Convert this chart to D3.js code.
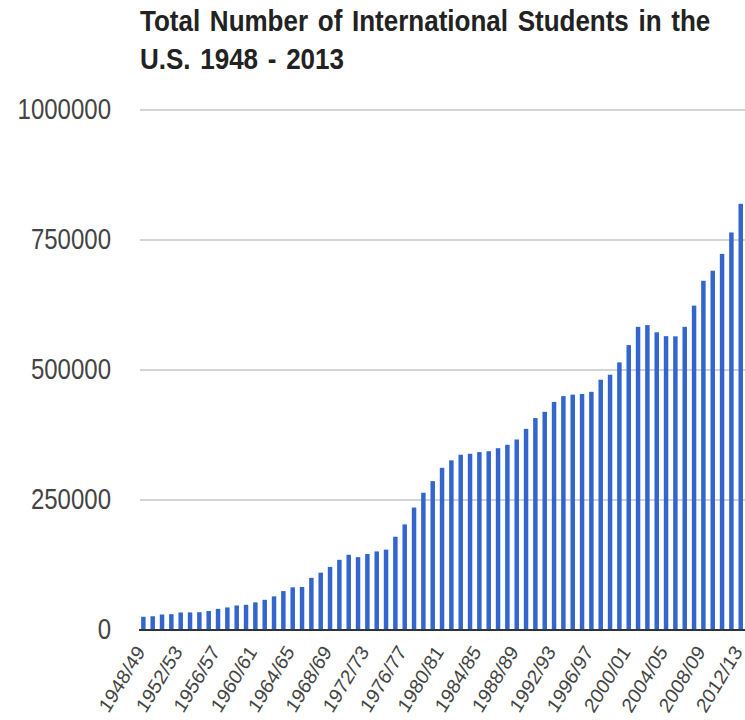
<!DOCTYPE html>
<html>
<head>
<meta charset="utf-8">
<script src="https://cdn.jsdelivr.net/npm/d3@7"></script>
<style>
  html, body { margin: 0; padding: 0; background: #fff; }
  svg { display: block; }
  text { font-family: "Liberation Sans", Arial, sans-serif; }
</style>
</head>
<body>
<svg id="chart" width="745" height="720"></svg>
<script>
const titleLines = ["Total Number of International Students in the", "U.S. 1948 - 2013"];

const categories = [
  "1948/49","1949/50","1950/51","1951/52","1952/53","1953/54","1954/55","1955/56",
  "1956/57","1957/58","1958/59","1959/60","1960/61","1961/62","1962/63","1963/64",
  "1964/65","1965/66","1966/67","1967/68","1968/69","1969/70","1970/71","1971/72",
  "1972/73","1973/74","1974/75","1975/76","1976/77","1977/78","1978/79","1979/80",
  "1980/81","1981/82","1982/83","1983/84","1984/85","1985/86","1986/87","1987/88",
  "1988/89","1989/90","1990/91","1991/92","1992/93","1993/94","1994/95","1995/96",
  "1996/97","1997/98","1998/99","1999/00","2000/01","2001/02","2002/03","2003/04",
  "2004/05","2005/06","2006/07","2007/08","2008/09","2009/10","2010/11","2011/12",
  "2012/13"
];

const students = [
  25464, 26433, 29813, 30462, 33675, 33833, 34232, 36494,
  40666, 43391, 47245, 48486, 53107, 58086, 64705, 74814,
  82045, 82709, 100262, 110315, 121362, 134959, 144708, 140126,
  146097, 151066, 154580, 179344, 203068, 235509, 263938, 286343,
  311882, 326299, 336985, 338894, 342113, 343777, 349609, 356187,
  366354, 386851, 407529, 419585, 438618, 449749, 452635, 453787,
  457984, 481280, 490933, 514723, 547867, 582996, 586323, 572509,
  565039, 564766, 582984, 623805, 671616, 690923, 723277, 764495,
  819644
];

const xTickLabels = ["1948/49","1952/53","1956/57","1960/61","1964/65","1968/69","1972/73",
  "1976/77","1980/81","1984/85","1988/89","1992/93","1996/97","2000/01","2004/05","2008/09","2012/13"];

const yTicks = [0, 250000, 500000, 750000, 1000000];

const svg = d3.select("#chart");
const plot = { left: 138.7, right: 745.4, top: 110, bottom: 630 };
const vStretch = 1.16;

const x = d3.scaleBand()
  .domain(categories)
  .range([plot.left, plot.right])
  .paddingInner(0.52)
  .paddingOuter(0.26);

const y = d3.scaleLinear()
  .domain([0, 1000000])
  .range([plot.bottom, plot.top]);

// title
svg.append("g").selectAll("text")
  .data(titleLines)
  .join("text")
  .attr("transform", (d, i) => `translate(140,${31 + i * 38}) scale(1,${vStretch})`)
  .attr("font-size", 26)
  .attr("font-weight", "bold")
  .attr("fill", "#222")
  .attr("word-spacing", 2.5)
  .text(d => d);

// gridlines
svg.append("g").selectAll("line")
  .data(yTicks.filter(d => d > 0))
  .join("line")
  .attr("x1", 140).attr("x2", 745)
  .attr("y1", d => y(d)).attr("y2", d => y(d))
  .attr("stroke", "#d4d4d4")
  .attr("stroke-width", 2);

// y labels
svg.append("g").selectAll("text")
  .data(yTicks)
  .join("text")
  .attr("transform", d => `translate(111,${y(d) + 8.5}) scale(1,${vStretch + 0.04})`)
  .attr("text-anchor", "end")
  .attr("font-size", 24)
  .attr("fill", "#444")
  .text(d => d);

// bars
svg.append("g").selectAll("rect")
  .data(students)
  .join("rect")
  .attr("x", (d, i) => x(categories[i]))
  .attr("width", x.bandwidth())
  .attr("y", d => y(d))
  .attr("height", d => y(0) - y(d))
  .attr("fill", "#3366cc");

// baseline
svg.append("line")
  .attr("x1", 139).attr("x2", 745)
  .attr("y1", y(0)).attr("y2", y(0))
  .attr("stroke", "#333")
  .attr("stroke-width", 2);

// x labels
svg.append("g").selectAll("text")
  .data(xTickLabels)
  .join("text")
  .attr("transform", d => `translate(${x(d) + x.bandwidth() / 2 + 2.5},652) scale(1,1.12) rotate(-56)`)
  .attr("text-anchor", "end")
  .attr("font-size", 18.5)
  .attr("fill", "#444")
  .text(d => d);
</script>
</body>
</html>
